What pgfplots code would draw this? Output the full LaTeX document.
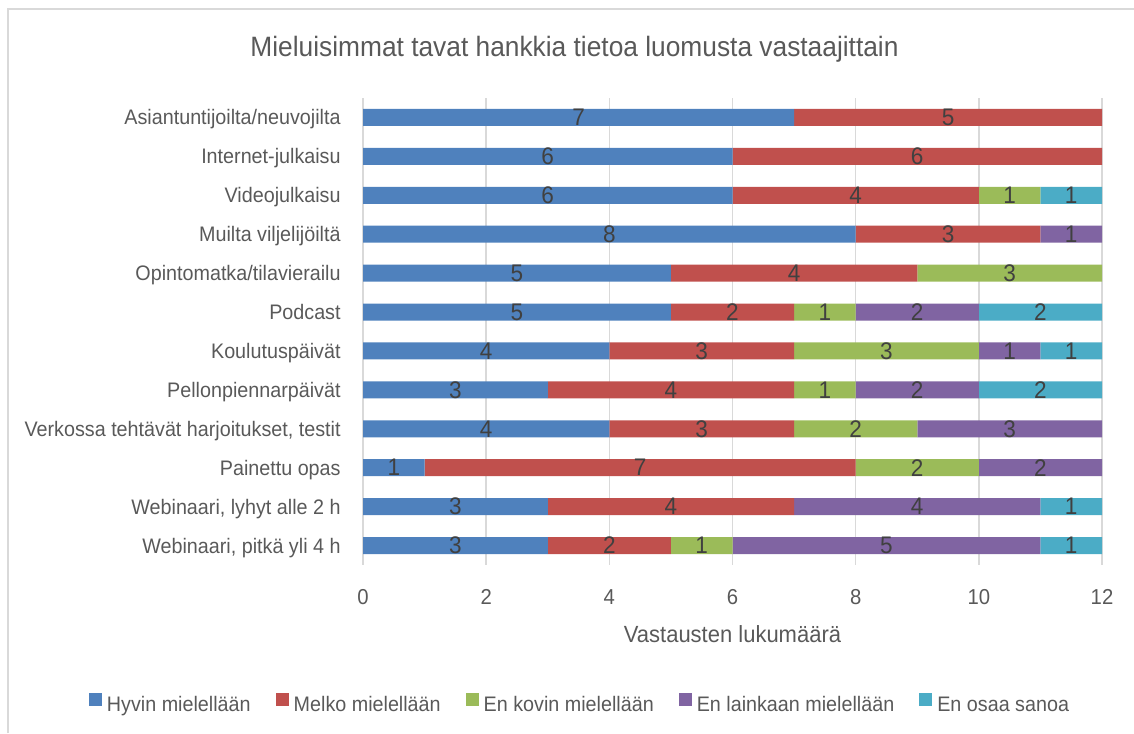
\documentclass[border=0pt]{standalone}
\usepackage{pgfplots}
\pgfplotsset{compat=1.18}
\usepackage{pgfplotstable}
\usepackage{fontspec}
\setmainfont{Liberation Sans}[FakeStretch=0.94]
\definecolor{c1}{HTML}{4F81BD}
\definecolor{c2}{HTML}{C0504D}
\definecolor{c3}{HTML}{9BBB59}
\definecolor{c4}{HTML}{8064A2}
\definecolor{c5}{HTML}{4BACC6}
\definecolor{txt}{HTML}{595959}
\definecolor{lbl}{HTML}{404040}
\definecolor{gridc}{HTML}{D9D9D9}
\pgfplotstableread{
idx a b c d e
0 7 5 0 0 0
1 6 6 0 0 0
2 6 4 1 0 1
3 8 3 0 1 0
4 5 4 3 0 0
5 5 2 1 2 2
6 4 3 3 1 1
7 3 4 1 2 2
8 4 3 2 3 0
9 1 7 2 2 0
10 3 4 0 4 1
11 3 2 1 5 1
}\datatable
\begin{document}
\begin{tikzpicture}
\useasboundingbox (0,0) rectangle (567pt,-366.5pt);
\draw[gridc, line width=0.75pt] (4pt,-366.5pt) -- (4pt,-4.5pt) -- (567pt,-4.5pt);
\node[anchor=base, text=txt, font=\fontsize{14}{16}\selectfont] at (287.25pt,-28.35pt) {Mieluisimmat tavat hankkia tietoa luomusta vastaajittain};
\begin{axis}[
  at={(181.5pt,-282.5pt)}, anchor=south west,
  scale only axis, width=369.5pt, height=233.5pt,
  xbar stacked, bar width=8.5pt,
  xmin=0, xmax=12, ymin=-0.5, ymax=11.5, y dir=reverse,
  enlargelimits=false,
  xtick={0,2,...,12},
  ytick={0,...,11},
  yticklabels={Asiantuntijoilta/neuvojilta, Internet-julkaisu, Videojulkaisu, Muilta viljelijöiltä, Opintomatka/tilavierailu, Podcast, Koulutuspäivät, Pellonpiennarpäivät, {Verkossa tehtävät harjoitukset, testit}, Painettu opas, {Webinaari, lyhyt alle 2 h}, {Webinaari, pitkä yli 4 h}},
  axis line style={draw=none},
  major tick length=0pt,
  xmajorgrids, ymajorgrids=false,
  grid style={gridc, line width=0.75pt},
  /pgf/number format/assume math mode=true,
  xticklabel style={font=\fontsize{10.8}{12}\selectfont, text=txt, anchor=base, inner sep=0pt, yshift=-19.5pt},
  yticklabel style={font=\fontsize{10.5}{12}\selectfont, text=txt, anchor=base east, inner sep=0pt, xshift=-11pt, yshift=-3.76pt},
  xlabel={Vastausten lukumäärä},
  xlabel style={at={(axis description cs:0.5,0)}, anchor=base, yshift=-38.5pt, font=\fontsize{11.7}{13}\selectfont, text=txt},
  nodes near coords={\fontsize{12}{13}\selectfont\ifdim\mval pt=0pt\else\pgfmathprintnumber{\mval}\fi},
  every node near coord/.append style={anchor=center, text=lbl},
  legend columns=-1,
  legend style={at={(0.2923,-0.2968)}, anchor=center, draw=none, fill=none,
    font=\fontsize{10.5}{12}\selectfont, text=txt,
    nodes={inner sep=0pt},
    /tikz/every odd column/.append style={column sep=2.5pt},
    /tikz/every even column/.append style={column sep=12.5pt}},
  legend image code/.code={\fill[#1] (0pt,0pt) rectangle (6.5pt,6.5pt);},
]
\addplot[fill=c1, draw=none, visualization depends on={\thisrow{a}\as\mval}] table[x=a,y=idx]{\datatable};
\addlegendentry{Hyvin mielellään}
\addplot[fill=c2, draw=none, visualization depends on={\thisrow{b}\as\mval}] table[x=b,y=idx]{\datatable};
\addlegendentry{Melko mielellään}
\addplot[fill=c3, draw=none, visualization depends on={\thisrow{c}\as\mval}] table[x=c,y=idx]{\datatable};
\addlegendentry{En kovin mielellään}
\addplot[fill=c4, draw=none, visualization depends on={\thisrow{d}\as\mval}] table[x=d,y=idx]{\datatable};
\addlegendentry{En lainkaan mielellään}
\addplot[fill=c5, draw=none, visualization depends on={\thisrow{e}\as\mval}] table[x=e,y=idx]{\datatable};
\addlegendentry{En osaa sanoa}
\end{axis}
\end{tikzpicture}
\end{document}
